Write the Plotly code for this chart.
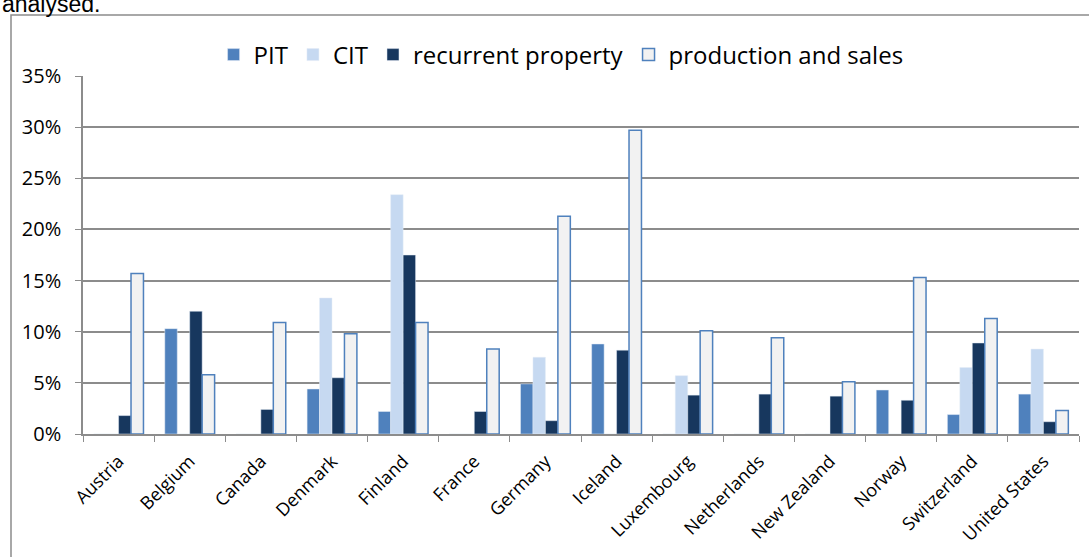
import plotly.graph_objects as go

# data (share in %)
countries = ['Austria', 'Belgium', 'Canada', 'Denmark', 'Finland', 'France', 'Germany',
             'Iceland', 'Luxembourg', 'Netherlands', 'New Zealand', 'Norway',
             'Switzerland', 'United States']
pit = [0, 10.3, 0, 4.4, 2.2, 0, 4.9, 8.8, 0, 0, 0, 4.3, 1.9, 3.9]
cit = [0, 0, 0, 13.3, 23.4, 0, 7.5, 0, 5.7, 0, 0, 0, 6.5, 8.3]
recurrent = [1.8, 12.0, 2.4, 5.5, 17.5, 2.2, 1.3, 8.2, 3.8, 3.9, 3.7, 3.3, 8.9, 1.2]
production = [15.7, 5.8, 10.9, 9.8, 10.9, 8.3, 21.3, 29.7, 10.1, 9.4, 5.1, 15.3, 11.3, 2.3]

W, H = 1089, 557
L, R, T, B = 83, 10, 76, 123
pw, ph = W - L - R, H - T - B

def px(x):
    return (x - L) / pw

def py(y):
    return (H - B - y) / ph

fig = go.Figure()
fig.add_trace(go.Bar(name='PIT', x=countries, y=pit, marker_color='#4F81BD'))
fig.add_trace(go.Bar(name='CIT', x=countries, y=cit, marker_color='#C6D9F1'))
fig.add_trace(go.Bar(name='recurrent property', x=countries, y=recurrent, marker_color='#17375E'))
fig.add_trace(go.Bar(name='production and sales', x=countries, y=production,
                     marker=dict(color='#F2F2F2', line=dict(color='#4F81BD', width=1.5))))

# outer chart frame
fig.add_shape(type='rect', xref='paper', yref='paper',
              x0=px(11), x1=px(1100), y0=py(600), y1=py(15),
              line=dict(color='#8C8C8C', width=1.5), layer='below')

# cut-off text above the chart
fig.add_annotation(text='analysed.', xref='paper', yref='paper', x=px(0), y=py(4),
                   xanchor='left', yanchor='middle', showarrow=False,
                   font=dict(family='Liberation Sans, Arial', size=23, color='black'))

fig.update_layout(
    width=W, height=H,
    margin=dict(l=L, r=R, t=T, b=B, autoexpand=False),
    paper_bgcolor='white', plot_bgcolor='white',
    barmode='group', bargap=0.3, bargroupgap=0,
    font=dict(family='Open Sans, Noto Sans, sans-serif', color='black', size=18),
    legend=dict(orientation='h', x=0.48, xanchor='center', y=py(55), yanchor='middle',
                font=dict(size=24), itemwidth=30, traceorder='normal',
                bgcolor='rgba(0,0,0,0)'),
    showlegend=True,
)
fig.update_yaxes(range=[0, 35], dtick=5, ticksuffix='%', showgrid=True,
                 gridcolor='#8C8C8C', gridwidth=1.5, showline=True, linecolor='#8C8C8C',
                 linewidth=1.5, ticks='outside', ticklen=6, tickcolor='#8C8C8C',
                 tickfont=dict(size=20), ticklabelstandoff=10, zeroline=False)
fig.update_xaxes(showline=True, linecolor='#8C8C8C', linewidth=1.5, ticks='outside',
                 tickson='boundaries', ticklen=6, tickcolor='#8C8C8C', tickangle=-45,
                 tickfont=dict(size=18), ticklabelstandoff=8)

fig.write_html('out.html', config={'displayModeBar': False},
               post_script="document.body.style.margin='0';")
